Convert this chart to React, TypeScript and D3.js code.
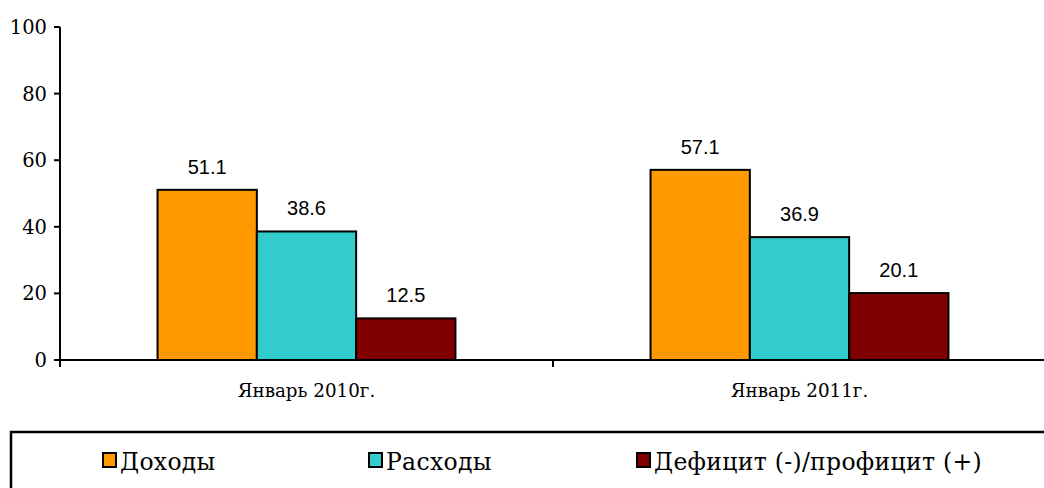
import React from "react";
import * as d3 from "d3";

const categories = ["Январь 2010г.", "Январь 2011г."];
const seriesNames = ["Доходы", "Расходы", "Дефицит (-)/профицит (+)"];
const seriesColors = ["#FF9900", "#33CCCC", "#800000"];
const income = [51.1, 57.1];
const expenses = [38.6, 36.9];
const balance = [12.5, 20.1];
const yTicks = [0, 20, 40, 60, 80, 100];

const W = 1044;
const H = 488;
const left = 60;
const right = 1046;
const top = 27;
const bottom = 360;
const serif = "'DejaVu Serif', serif";

export default function App() {
  const values = [income, expenses, balance];
  const x = d3.scaleBand<string>().domain(categories).range([left, right]).paddingInner(0).paddingOuter(0);
  const y = d3.scaleLinear().domain([0, 100]).range([bottom, top]);
  const barW = 99.3;
  const legendX = [103, 369, 637];
  return (
    <svg width={W} height={H} style={{ position: "absolute", left: 0, top: 0 }}>
      <rect x={0} y={0} width={W} height={H} fill="#fff" />
      {categories.map((c, ci) => {
        const cx = (x(c) as number) + x.bandwidth() / 2;
        const start = cx - (barW * 3) / 2;
        return values.map((s, si) => {
          const v = s[ci];
          const bx = start + si * barW;
          return (
            <g key={c + si}>
              <rect x={bx} y={y(v)} width={barW} height={bottom - y(v)} fill={seriesColors[si]} stroke="#000" strokeWidth={2} />
              <text x={bx + barW / 2} y={y(v) - 16} textAnchor="middle" style={{ fontFamily: "'Liberation Sans', Arial, sans-serif" }} fontSize={20} fill="#000">
                {v.toFixed(1)}
              </text>
            </g>
          );
        });
      })}
      <line x1={left} y1={top} x2={left} y2={bottom + 7} stroke="#000" strokeWidth={2} />
      <line x1={left} y1={bottom} x2={W} y2={bottom} stroke="#000" strokeWidth={2} />
      {yTicks.map((t) => (
        <g key={t}>
          <line x1={left - 6} y1={y(t)} x2={left} y2={y(t)} stroke="#000" strokeWidth={2} />
          <text x={47} y={y(t) + 7} textAnchor="end" style={{ fontFamily: serif }} fontSize={19.5} fill="#000">
            {t}
          </text>
        </g>
      ))}
      {categories.map((c) => (
        <g key={c}>
          <line x1={(x(c) as number) + x.bandwidth()} y1={bottom} x2={(x(c) as number) + x.bandwidth()} y2={bottom + 7} stroke="#000" strokeWidth={2} />
          <text x={(x(c) as number) + x.bandwidth() / 2} y={397} textAnchor="middle" style={{ fontFamily: serif }} fontSize={18.3} fill="#000">
            {c}
          </text>
        </g>
      ))}
      <rect x={11} y={432} width={W + 20} height={100} fill="none" stroke="#000" strokeWidth={2.5} />
      {seriesNames.map((n, i) => (
        <g key={n}>
          <rect x={legendX[i]} y={453} width={13} height={14} fill={seriesColors[i]} stroke="#000" strokeWidth={2} />
          <text x={legendX[i] + 17} y={470} style={{ fontFamily: serif }} fontSize={23.5} letterSpacing={0.3} fill="#000">
            {n}
          </text>
        </g>
      ))}
    </svg>
  );
}
